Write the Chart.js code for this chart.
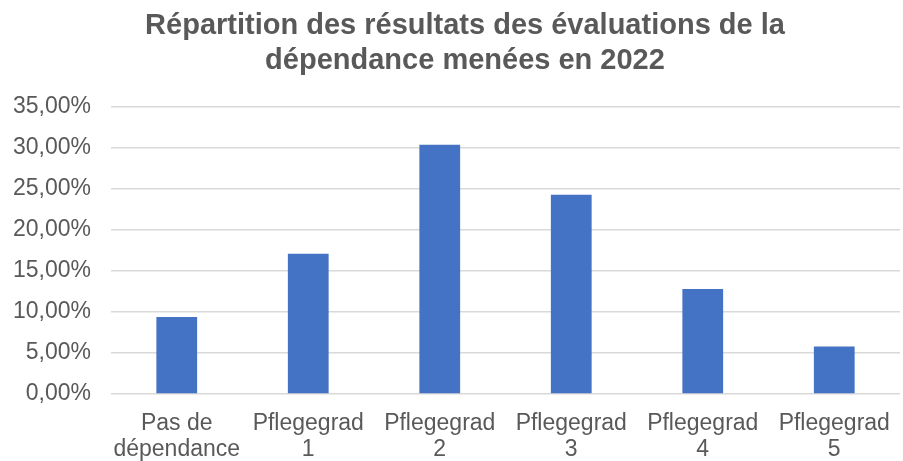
<!DOCTYPE html>
<html>
<head>
<meta charset="utf-8">
<script src="https://cdn.jsdelivr.net/npm/chart.js@4"></script>
<style>
  html, body { margin: 0; padding: 0; background: #fff; }
  #wrap { width: 903px; height: 461px; }
</style>
</head>
<body>
<div id="wrap"><canvas id="chart" width="903" height="461"></canvas></div>
<script>
// categories and values (percent)
const categories = [
    ['Pas de', 'dépendance'],
    ['Pflegegrad', '1'],
    ['Pflegegrad', '2'],
    ['Pflegegrad', '3'],
    ['Pflegegrad', '4'],
    ['Pflegegrad', '5']
];
const shares = [9.4, 17.1, 30.4, 24.3, 12.8, 5.8];
const titleLines = ['Répartition des résultats des évaluations de la', 'dépendance menées en 2022'];

const textGray = '#595959';
const fontFamily = 'Liberation Sans, Arial, sans-serif';

// the title sits a bit left of the plot centre, so draw it ourselves
const titlePlugin = {
    id: 'offsetTitle',
    afterDraw(chart) {
        const c = chart.ctx;
        c.save();
        c.fillStyle = textGray;
        c.font = 'bold 29px ' + fontFamily;
        c.textAlign = 'center';
        c.textBaseline = 'middle';
        c.fillText(titleLines[0], 465, 26);
        c.fillText(titleLines[1], 465, 61);
        c.restore();
    }
};

const ctx = document.getElementById('chart').getContext('2d');
new Chart(ctx, {
    type: 'bar',
    data: {
        labels: categories,
        datasets: [{
            data: shares,
            backgroundColor: '#4472C4',
            borderWidth: 0,
            categoryPercentage: 1,
            barPercentage: 0.31
        }]
    },
    options: {
        responsive: false,
        animation: false,
        layout: { padding: { left: 0, right: 3, top: 107, bottom: 0 } },
        plugins: {
            legend: { display: false },
            tooltip: { enabled: false },
            title: { display: false }
        },
        scales: {
            x: {
                afterFit: function (scale) { scale.height = 67; },
                grid: { display: false },
                border: { display: false },
                ticks: {
                    color: textGray,
                    maxRotation: 0,
                    autoSkip: false,
                    padding: 8,
                    font: { family: fontFamily, size: 23, lineHeight: 1.15 }
                }
            },
            y: {
                min: 0,
                max: 35,
                afterFit: function (scale) { scale.width = 111; },
                grid: { color: '#d9d9d9', lineWidth: 1.5, drawTicks: false },
                border: { display: false },
                ticks: {
                    stepSize: 5,
                    color: textGray,
                    padding: 20,
                    font: { family: fontFamily, size: 23 },
                    callback: function (v) { return v.toFixed(2).replace('.', ',') + '%'; }
                }
            }
        }
    },
    plugins: [titlePlugin]
});
</script>
</body>
</html>
